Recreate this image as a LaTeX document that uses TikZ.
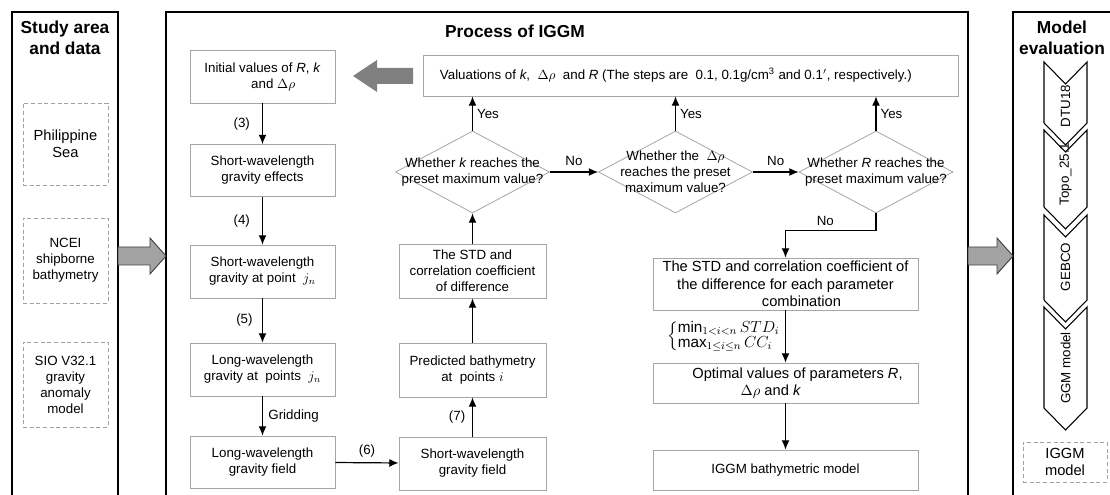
\documentclass[tikz,border=0pt]{standalone}
\usepackage{amsmath}
\usepackage{fontspec}
\setmainfont{Liberation Sans}
\usetikzlibrary{shapes.geometric,arrows.meta}
\definecolor{boxgray}{HTML}{A6A6A6}
\definecolor{dashgray}{HTML}{A0A0A0}
\definecolor{arrfill}{HTML}{A3A3A3}
\definecolor{arrline}{HTML}{404040}
\definecolor{bigarr}{HTML}{808080}
\begin{document}
\begin{tikzpicture}[x=0.75pt,y=-0.75pt,
  every node/.style={inner sep=0pt},
  t10/.style={font=\fontsize{10}{12}\selectfont},
  t11/.style={font=\fontsize{11}{13}\selectfont},
  box/.style={draw=boxgray, line width=0.6pt, align=center},
  dbox/.style={draw=dashgray, line width=0.6pt, dash pattern=on 3pt off 2pt, align=center},
  arr/.style={draw=black, line width=0.9pt, -{Latex[length=7pt,width=6pt]}},
  ttl/.style={font=\bfseries\fontsize{13}{15.5}\selectfont, align=center},
  panel/.style={draw=black, line width=1.2pt},
  chev/.style={draw=black, line width=0.8pt, fill=white},
  dia/.style={diamond, draw=boxgray, line width=0.6pt, minimum width=115.5pt, minimum height=61.5pt},
  blockarr/.style={fill=arrfill, draw=arrline, line width=0.7pt, line join=miter}
]
\fill[white] (0,0) rectangle (1110,495);
\clip (0,0) rectangle (1110,495);

% panels
\draw[panel] (12,12) rectangle (118,510);
\draw[panel] (166,12) rectangle (968,510);
\draw[panel] (1013,12) rectangle (1125,510);

% titles
\node[ttl] (t1) at (65,37.5) {Study area\\and data};
\node[ttl] (t2) at (515,31) {Process of IGGM};
\node[ttl] (t3) at (1062,37.5) {Model\\evaluation};

% left data boxes
\node[dbox, t11, minimum width=63.75pt, minimum height=61.5pt] (ps) at (65.5,144) {Philippine\\Sea};
\node[dbox, t10, minimum width=63.75pt, minimum height=63.75pt] (ncei) at (65.5,260.5) {NCEI\\shipborne\\bathymetry};
\node[dbox, t10, minimum width=63.75pt, minimum height=63.75pt] (sio) at (65.5,384.5) {SIO V32.1\\gravity\\anomaly\\model};

% block arrows between panels
\filldraw[blockarr] (118,247) -- (150,247) -- (150,238) -- (166,256) -- (150,274) -- (150,265) -- (118,265) -- cycle;
\filldraw[blockarr] (968,247) -- (997,247) -- (997,238) -- (1013,256) -- (997,274) -- (997,265) -- (968,265) -- cycle;
\fill[bigarr] (413,68) -- (377,68) -- (377,60) -- (353,76) -- (377,92) -- (377,84) -- (413,84) -- cycle;

% column 1
\node[box, t10, minimum width=108.75pt, minimum height=39.75pt] (init) at (262.5,76.5) {Initial values of \textit{R}, \textit{k}\\\hspace*{16pt}and $\Delta\rho$};
\node[box, t10, minimum width=108.75pt, minimum height=39pt] (swe) at (262.5,170.5) {Short-wavelength\\gravity effects};
\node[box, t10, minimum width=108.75pt, minimum height=39.75pt] (swp) at (262.5,271.5) {Short-wavelength\\gravity at point\ \ $j_n$};
\node[box, t10, minimum width=108.75pt, minimum height=39.75pt] (lwp) at (262.5,369.5) {Long-wavelength\\gravity at\ \ points\ \ $j_n$};
\node[box, t10, minimum width=108.75pt, minimum height=39pt] (lwf) at (262.5,462) {Long-wavelength\\gravity field};

% column 2
\node[box, t10, minimum width=110.25pt, minimum height=39.75pt] (swf) at (472.5,463.5) {Short-wavelength\\gravity field};
\node[box, t10, minimum width=110.25pt, minimum height=40.5pt] (pred) at (472.5,370) {Predicted bathymetry\\at\ \ points $i$};
\node[box, t10, minimum width=110.25pt, minimum height=40.5pt] (std) at (472.5,271) {The STD and\\correlation coefficient\\of difference};

% top box
\node[box, t10, minimum width=401.25pt, minimum height=30.75pt] (val) at (690.5,75.5) {Valuations of \textit{k},\ \ $\Delta\rho$\ \ and \textit{R} (The steps are\ \ 0.1, 0.1g/cm\textsuperscript{3} and 0.1$'$, respectively.)\hspace*{22pt}};

% diamonds
\node[dia] (d1) at (472.5,172) {};
\node[t10, align=center] (d1t) at (472.5,172) {Whether \textit{k} reaches the\\preset maximum value?};
\node[dia] (d2) at (675.5,172) {};
\node[t10, align=center] (d2t) at (675.5,172) {Whether the\ \ $\Delta\rho$\\reaches the preset\\maximum value?};
\node[dia] (d3) at (876,172) {};
\node[t10, align=center] (d3t) at (876,172) {Whether \textit{R} reaches the\\preset maximum value?};

% right column boxes
\node[box, t11, minimum width=198.75pt, minimum height=39pt] (std2) at (785.5,284) {The STD and correlation coefficient of\\the difference for each parameter\\\hspace*{24pt}combination};
\node[box, t11, minimum width=198.75pt, minimum height=30pt] (opt) at (785.5,383) {\hspace*{18pt}Optimal values of parameters \textit{R},\\$\Delta\rho$ and \textit{k}\hspace*{22pt}};
\node[box, t10, minimum width=198.75pt, minimum height=30pt] (bathy) at (785.5,470) {IGGM bathymetric model};

% connectors column 1
\draw[arr] (init) -- node[t10, left=9pt] (l3) {(3)} (swe);
\draw[arr] (swe) -- node[t10, left=9pt] (l4) {(4)} (swp);
\draw[arr] (swp) -- node[t10, left=7pt] (l5) {(5)} (lwp);
\draw[arr] (lwp) -- node[t10, right=4pt] (lg) {Gridding} (lwf);
\draw[arr] (lwf) -- node[t10, above=4pt] (l6) {(6)} (swf);
% column 2
\draw[arr] (swf) -- node[t10, left=5pt] (l7) {(7)} (pred);
\draw[arr] (pred) -- (std);
\draw[arr] (std) -- (d1);
% yes arrows
\draw[arr] (d1.north) -- node[t10, right=3pt] (y1) {Yes} (d1.north |- val.south);
\draw[arr] (d2.north) -- node[t10, right=3pt] (y2) {Yes} (d2.north |- val.south);
\draw[arr] (d3.north) -- node[t10, right=3pt] (y3) {Yes} (d3.north |- val.south);
% no arrows
\draw[arr] (d1.east) -- node[t10, above=4pt] (n1) {No} (d2.west);
\draw[arr] (d2.east) -- node[t10, above=4pt] (n2) {No} (d3.west);
\draw[arr] (d3.south) -- ++(0,17) -| node[t10, pos=0.28, above=3pt] (n3) {No} (std2.north);
% right column
\draw[arr] (std2) -- node[left=3pt, font=\fontsize{11.5}{13}\selectfont] (fml) {$\left\{\renewcommand{\arraystretch}{0.85}\begin{array}{@{}l@{}}\min_{1<i<n} STD_i\\ \max_{1\le i\le n} CC_i\end{array}\right.$} (opt);
\draw[arr] (opt) -- (bathy);

% chevrons (drawn bottom to top so upper tips cover lower labels)
\filldraw[chev] (1044,307) -- (1065.5,329) -- (1087,307) -- (1087,408) -- (1065.5,430) -- (1044,408) -- cycle;
\node[t10, rotate=90] (c4) at (1065.5,368) {GGM model};
\filldraw[chev] (1044,215) -- (1065.5,237) -- (1087,215) -- (1087,300) -- (1065.5,322) -- (1044,300) -- cycle;
\node[t10, rotate=90] (c3) at (1065.5,267) {GEBCO};
\filldraw[chev] (1044,130) -- (1065.5,152) -- (1087,130) -- (1087,207) -- (1065.5,229) -- (1044,207) -- cycle;
\node[t10, rotate=90] (c2) at (1065.5,174) {Topo\_25.1};
\filldraw[chev] (1044,62) -- (1065.5,84) -- (1087,62) -- (1087,123) -- (1065.5,145) -- (1044,123) -- cycle;
\node[t10, rotate=90] (c1) at (1065.5,106) {DTU18};

\node[dbox, t11, minimum width=63pt, minimum height=30pt] (iggm) at (1065,462) {IGGM\\model};
\end{tikzpicture}
\end{document}
